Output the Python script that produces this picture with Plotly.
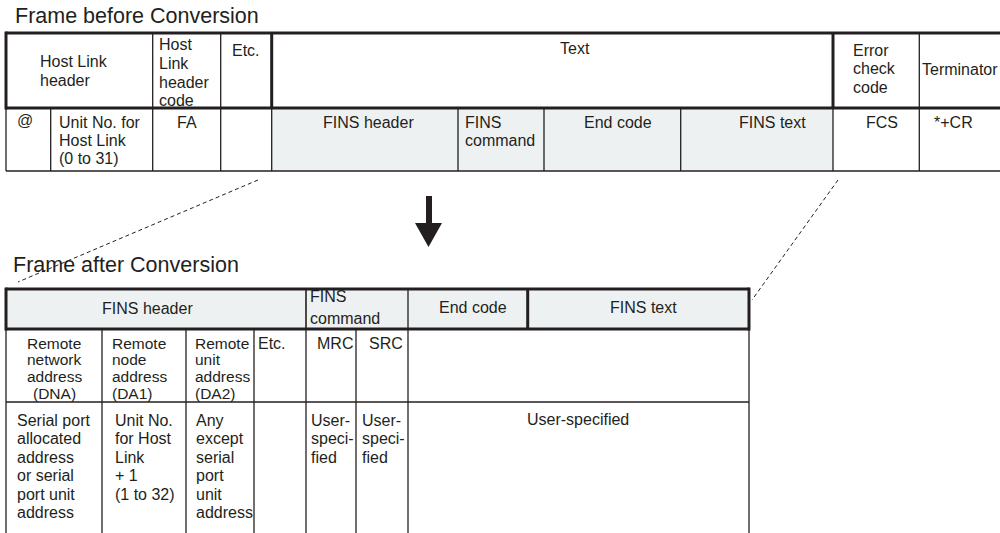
import plotly.graph_objects as go

# ---------------- content (text of the diagram) ----------------
before_title = "Frame before Conversion"
after_title = "Frame after Conversion"

before_header_labels = [["Host Link", "header"], ["Host", "Link", "header", "code"], ["Etc."],
                        ["Text"], ["Error", "check", "code"], ["Terminator"]]
before_field_labels = [["@"], ["Unit No. for", "Host Link", "(0 to 31)"], ["FA"], [],
                       ["FINS header"], ["FINS", "command"], ["End code"], ["FINS text"],
                       ["FCS"], ["*+CR"]]

after_header_labels = [["FINS header"], ["FINS", "command"], ["End code"], ["FINS text"]]
after_sub_labels = [["Remote", "network", "address", "(DNA)"], ["Remote", "node", "address", "(DA1)"],
                    ["Remote", "unit", "address", "(DA2)"], ["Etc."], ["MRC"], ["SRC"], []]
after_value_labels = [["Serial port", "allocated", "address", "or serial", "port unit", "address"],
                      ["Unit No.", "for Host", "Link", "+ 1", "(1 to 32)"],
                      ["Any", "except", "serial", "port", "unit", "address"], [],
                      ["User-", "speci-", "fied"], ["User-", "speci-", "fied"], ["User-specified"]]

# ---------------- layout / style constants ----------------
INK = "#231f20"
SHADE = "#eef1f2"
FONT = "Liberation Sans, Arial, sans-serif"
THICK = 3
THIN = 1.3
YOFF = 0.5  # vertical nudge for text

fig = go.Figure()
shapes = []


def line(x0, y0, x1, y1, w=THIN, dash=None):
    d = dict(type="line", x0=x0, y0=y0, x1=x1, y1=y1, xref="x", yref="y",
             line=dict(color=INK, width=w))
    if dash:
        d["line"]["dash"] = dash
    shapes.append(d)


def rect(x0, y0, x1, y1, fill):
    shapes.append(dict(type="rect", x0=x0, y0=y0, x1=x1, y1=y1, xref="x", yref="y",
                       fillcolor=fill, line=dict(width=0), layer="below"))


def text_lines(x, y0, lines, dy, anchor="left", size=16):
    for i, t in enumerate(lines):
        fig.add_annotation(x=x, y=y0 + i * dy + YOFF, text=t, xanchor=anchor, yanchor="middle",
                           showarrow=False, borderpad=0, borderwidth=0,
                           font=dict(family=FONT, size=size, color=INK))


# ---------------- top table: frame before conversion ----------------
T_TOP, T_MID, T_BOT = 33, 108, 171
t_cols = [6, 50.7, 152.7, 220.7, 271.7, 458, 544, 680.7, 833, 919.3]
RIGHT = 1010

rect(271.7, T_MID, 833, T_BOT, SHADE)
# header row borders
line(6, T_TOP, RIGHT, T_TOP, THICK)
line(6, T_MID, RIGHT, T_MID, THICK)
line(6, T_TOP - 1.5, 6, T_MID + 1.5, THICK)
for x in (271.7, 833):
    line(x, T_TOP, x, T_MID, THICK)
for x in (152.7, 220.7, 919.3):
    line(x, T_TOP, x, T_MID, THIN)
# field row
for x in t_cols:
    line(x, T_MID, x, T_BOT, THIN)
line(6, T_BOT, RIGHT, T_BOT, THIN)

# header texts
hdr_pos = [(40, 61, 19, "left"), (159.3, 44.3, 18.6, "left"), (232, 50, 18, "left"),
           (560, 48.3, 18, "left"), (852.7, 50, 18.3, "left"), (921.7, 69, 18, "left")]
for (x, y, dy, a), lab in zip(hdr_pos, before_header_labels):
    text_lines(x, y, lab, dy, a)

fld_pos = [(17, 119.5, 18, "left"), (59.3, 121.7, 18.3, "left"), (177, 121.7, 18, "left"),
           (246, 121.7, 18, "center"), (368, 121.7, 18, "center"), (465, 121.7, 18.3, "left"),
           (617.5, 121.7, 18, "center"), (772.5, 121.7, 18, "center"),
           (881.7, 121.7, 18, "center"), (953.3, 121.7, 18, "center")]
for (x, y, dy, a), lab in zip(fld_pos, before_field_labels):
    text_lines(x, y, lab, dy, a)

fig.add_annotation(x=15, y=15.5 + YOFF, text=before_title, xanchor="left", yanchor="middle",
                   showarrow=False, borderpad=0, borderwidth=0,
                   font=dict(family=FONT, size=21.5, color=INK))

# ---------------- connector dashes and arrow ----------------
line(258, 180, 18, 282, 1, "4px,3px")
line(838, 180, 752, 300, 1, "4px,3px")
rect(426, 196, 432, 224, INK)
shapes.append(dict(type="path", path="M 415 223 L 442 223 L 428.5 247 Z", xref="x", yref="y",
                   fillcolor=INK, line=dict(width=0)))

# ---------------- bottom table: frame after conversion ----------------
B_TOP, B_MID, B_SUB, B_BOT = 289, 329, 402, 540
b_cols = [6, 102, 186, 254, 306, 356, 408, 749]

rect(6, B_TOP, 749, B_MID, SHADE)
line(6, B_TOP, 749, B_TOP, THICK)
line(6, B_MID, 749, B_MID, THICK)
line(6, B_TOP - 1.5, 6, B_MID + 1.5, THICK)
line(749, B_TOP - 1.5, 749, B_MID + 1.5, THICK)
line(527.7, B_TOP, 527.7, B_MID, THICK)
line(306, B_TOP, 306, B_MID, 1.6)
line(408, B_TOP, 408, B_MID, THIN)
for x in b_cols:
    line(x, B_MID, x, B_BOT, THIN)
line(6, B_SUB, 749, B_SUB, THIN)

ah_pos = [(147.5, 308.3, 18, "center", 16), (310, 296, 21.7, "left", 16),
          (473, 307.3, 18, "center", 16), (643, 307.3, 18, "center", 16)]
for (x, y, dy, a, s), lab in zip(ah_pos, after_header_labels):
    text_lines(x, y, lab, dy, a, s)

sub_pos = [(54, 342.7, 16.7, "center", 15.5), (112, 342.7, 16.7, "left", 15.5),
           (195, 342.7, 16.7, "left", 15.5), (258.3, 342.7, 16.7, "left", 16),
           (353, 342.7, 16.7, "right", 16), (403.3, 342.7, 16.7, "right", 16),
           (578, 342.7, 16.7, "center", 16)]
for (x, y, dy, a, s), lab in zip(sub_pos, after_sub_labels):
    text_lines(x, y, lab, dy, a, s)

val_pos = [(17.3, 420, 18.4, "left", 16), (115, 420, 18.4, "left", 16),
           (196, 420, 18.4, "left", 16), (270, 420, 18.4, "left", 16),
           (311, 420, 18.4, "left", 16), (362, 420, 18.4, "left", 16),
           (578, 419, 18.4, "center", 16)]
for (x, y, dy, a, s), lab in zip(val_pos, after_value_labels):
    text_lines(x, y, lab, dy, a, s)

fig.add_annotation(x=12.7, y=264 + YOFF, text=after_title, xanchor="left", yanchor="middle",
                   showarrow=False, borderpad=0, borderwidth=0,
                   font=dict(family=FONT, size=21.5, color=INK))

fig.update_layout(
    width=1000, height=533,
    margin=dict(l=0, r=0, t=0, b=0),
    paper_bgcolor="white", plot_bgcolor="white",
    xaxis=dict(range=[0, 1000], visible=False, fixedrange=True),
    yaxis=dict(range=[533, 0], visible=False, fixedrange=True),
    shapes=shapes,
    showlegend=False,
)

# remove the page's default body margin so the figure fills the window exactly
fig.write_html("out.html", config={"displayModeBar": False},
               post_script="document.body.style.margin='0';document.body.style.overflow='hidden';")
